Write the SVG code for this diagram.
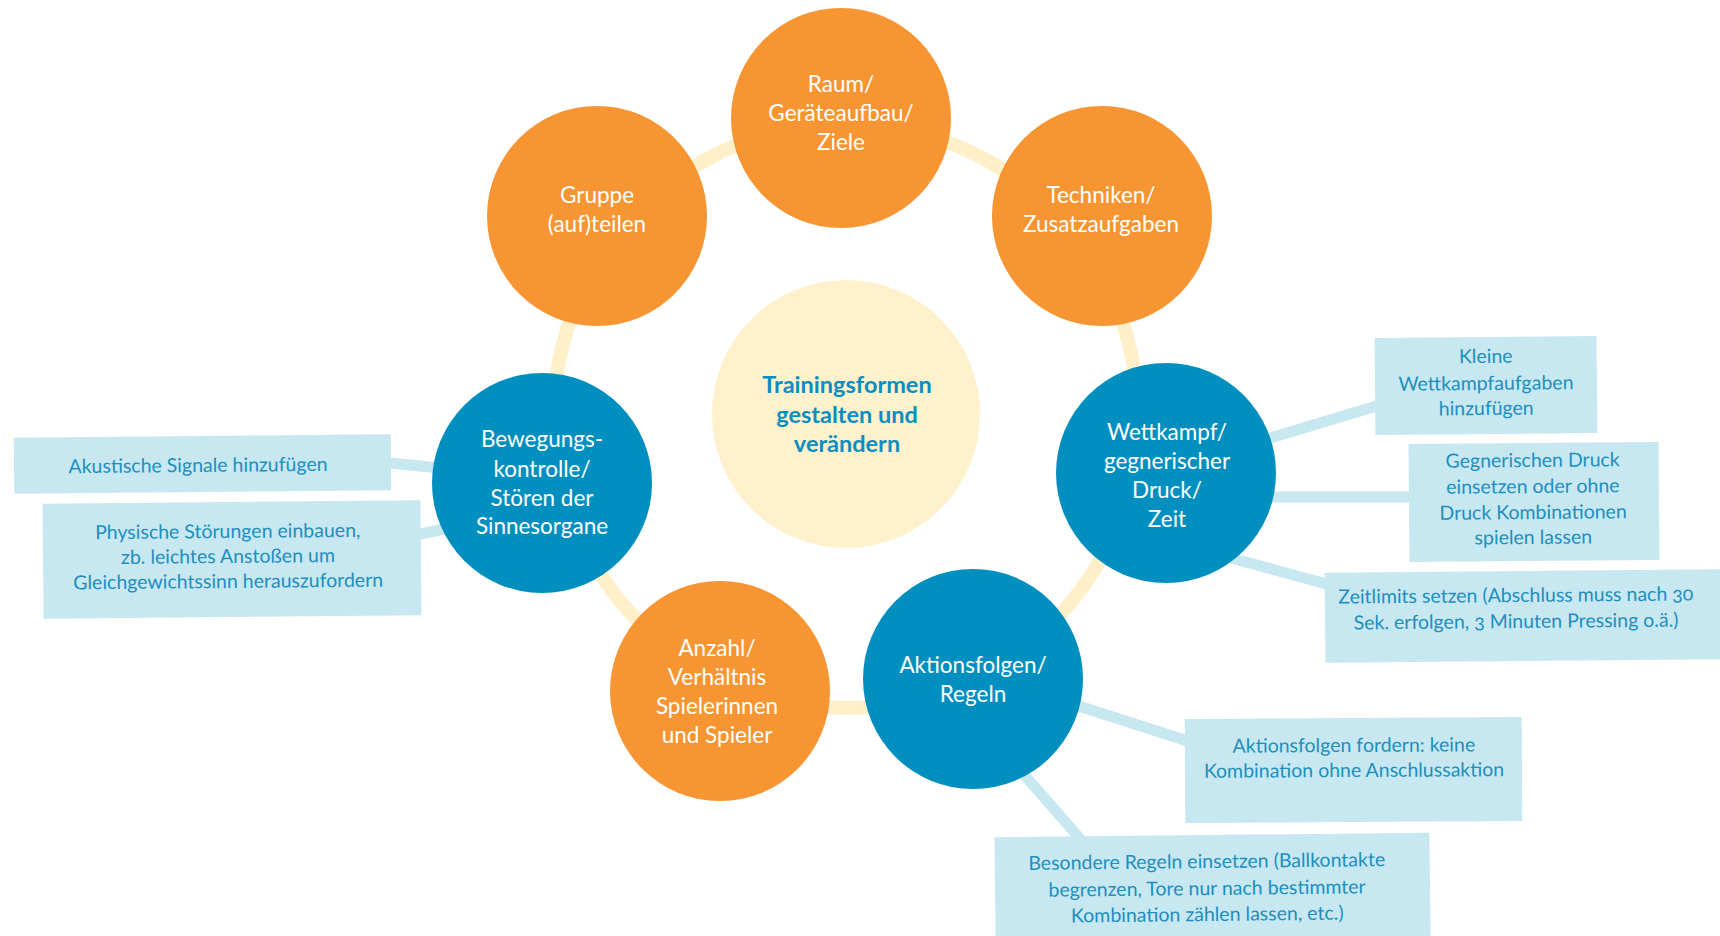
<svg xmlns="http://www.w3.org/2000/svg" width="1720" height="936" viewBox="0 0 1720 936">
  <style>
    .ring { fill: none; stroke: #FFF0C9; stroke-width: 14; }
    .link { stroke: #C7E7F1; stroke-width: 11; stroke-linecap: butt; }
    .box { fill: #C7E7F1; }
    .orange { fill: #F79532; }
    .blue { fill: #008FBE; }
    .core { fill: #FFF1CC; }
    .ctext { font-family: Lato, "Open Sans", sans-serif; font-weight: 400; font-size: 22.5px; fill: #FFFFFF; text-anchor: middle; }
    .btext { font-family: Lato, "Open Sans", sans-serif; font-weight: 400; font-size: 19.5px; fill: #1C8FC0; text-anchor: middle; font-feature-settings: "onum"; }
    .title { font-family: Lato, "Open Sans", sans-serif; font-weight: 700; font-size: 23.5px; fill: #0A8DC0; text-anchor: middle; }
  </style>

  <rect width="1720" height="936" fill="#FFFFFF"/>

  <!-- ring behind the satellite circles -->
  <circle class="ring" cx="846" cy="416" r="292"/>

  <!-- connectors from circles to note boxes -->
  <g id="connectors">
    <line class="link" x1="370" y1="461" x2="450" y2="469"/>
    <line class="link" x1="400" y1="538" x2="460" y2="526"/>
    <line class="link" x1="1260" y1="441" x2="1390" y2="402"/>
    <line class="link" x1="1260" y1="497" x2="1420" y2="497"/>
    <line class="link" x1="1220" y1="555" x2="1345" y2="589"/>
    <line class="link" x1="1060" y1="700" x2="1200" y2="745"/>
    <line class="link" x1="1020" y1="770" x2="1090" y2="850"/>
  </g>

  <!-- centre -->
  <g id="center">
    <circle class="core" cx="846" cy="414" r="134"/>
    <text class="title" x="847" y="393">Trainingsformen</text>
    <text class="title" x="847" y="423">gestalten und</text>
    <text class="title" x="847" y="452">verändern</text>
  </g>

  <g id="raum">
    <circle class="orange" cx="841" cy="118" r="110"/>
    <text class="ctext" x="841" y="92">Raum/</text>
    <text class="ctext" x="841" y="121">Geräteaufbau/</text>
    <text class="ctext" x="841" y="150">Ziele</text>
  </g>

  <g id="gruppe">
    <circle class="orange" cx="597" cy="216" r="110"/>
    <text class="ctext" x="597" y="203">Gruppe</text>
    <text class="ctext" x="597" y="232">(auf)teilen</text>
  </g>

  <g id="techniken">
    <circle class="orange" cx="1102" cy="216" r="110"/>
    <text class="ctext" x="1101" y="203">Techniken/</text>
    <text class="ctext" x="1101" y="232">Zusatzaufgaben</text>
  </g>

  <g id="wettkampf">
    <circle class="blue" cx="1166" cy="473" r="110"/>
    <text class="ctext" x="1167" y="440">Wettkampf/</text>
    <text class="ctext" x="1167" y="469">gegnerischer</text>
    <text class="ctext" x="1167" y="498">Druck/</text>
    <text class="ctext" x="1167" y="527">Zeit</text>
  </g>

  <g id="aktionsfolgen">
    <circle class="blue" cx="973" cy="679" r="110"/>
    <text class="ctext" x="973" y="673">Aktionsfolgen/</text>
    <text class="ctext" x="973" y="702">Regeln</text>
  </g>

  <g id="anzahl">
    <circle class="orange" cx="720" cy="691" r="110"/>
    <text class="ctext" x="717" y="656">Anzahl/</text>
    <text class="ctext" x="717" y="685">Verhältnis</text>
    <text class="ctext" x="717" y="714">Spielerinnen</text>
    <text class="ctext" x="717" y="743">und Spieler</text>
  </g>

  <g id="bewegung">
    <circle class="blue" cx="542" cy="483" r="110"/>
    <text class="ctext" x="542" y="447">Bewegungs-</text>
    <text class="ctext" x="542" y="477">kontrolle/</text>
    <text class="ctext" x="542" y="506">Stören der</text>
    <text class="ctext" x="542" y="534">Sinnesorgane</text>
  </g>

  <!-- note boxes -->
  <g id="note-akustisch" transform="rotate(-0.5 202 464)">
    <rect class="box" x="14" y="436" width="377" height="56"/>
    <text class="btext" x="198" y="472">Akustische Signale hinzufügen</text>
  </g>

  <g id="note-physisch" transform="rotate(-0.5 232 560)">
    <rect class="box" x="43" y="502" width="378" height="115"/>
    <text class="btext" x="228" y="538">Physische Störungen einbauen,</text>
    <text class="btext" x="228" y="563">zb. leichtes Anstoßen um</text>
    <text class="btext" x="228" y="588">Gleichgewichtssinn herauszufordern</text>
  </g>

  <g id="note-kleine" transform="rotate(-0.5 1486 386)">
    <rect class="box" x="1375" y="337" width="222" height="97"/>
    <text class="btext" x="1486" y="363">Kleine</text>
    <text class="btext" x="1486" y="390">Wettkampfaufgaben</text>
    <text class="btext" x="1486" y="415">hinzufügen</text>
  </g>

  <g id="note-druck" transform="rotate(-0.5 1534 502)">
    <rect class="box" x="1409" y="443" width="250" height="118"/>
    <text class="btext" x="1533" y="467">Gegnerischen Druck</text>
    <text class="btext" x="1533" y="493">einsetzen oder ohne</text>
    <text class="btext" x="1533" y="519">Druck Kombinationen</text>
    <text class="btext" x="1533" y="544">spielen lassen</text>
  </g>

  <g id="note-zeit" transform="rotate(-0.5 1522 616)">
    <rect class="box" x="1325" y="571" width="400" height="90"/>
    <text class="btext" x="1516" y="602">Zeitlimits setzen (Abschluss muss nach 30</text>
    <text class="btext" x="1516" y="628">Sek. erfolgen, 3 Minuten Pressing o.ä.)</text>
  </g>

  <g id="note-aktionsfolgen" transform="rotate(-0.3 1353 770)">
    <rect class="box" x="1185" y="718" width="337" height="104"/>
    <text class="btext" x="1354" y="752">Aktionsfolgen fordern: keine</text>
    <text class="btext" x="1354" y="777">Kombination ohne Anschlussaktion</text>
  </g>

  <g id="note-regeln" transform="rotate(-0.6 1212 886)">
    <rect class="box" x="995" y="835" width="435" height="110"/>
    <text class="btext" x="1207" y="868">Besondere Regeln einsetzen (Ballkontakte</text>
    <text class="btext" x="1207" y="895">begrenzen, Tore nur nach bestimmter</text>
    <text class="btext" x="1207" y="921">Kombination zählen lassen, etc.)</text>
  </g>
</svg>
